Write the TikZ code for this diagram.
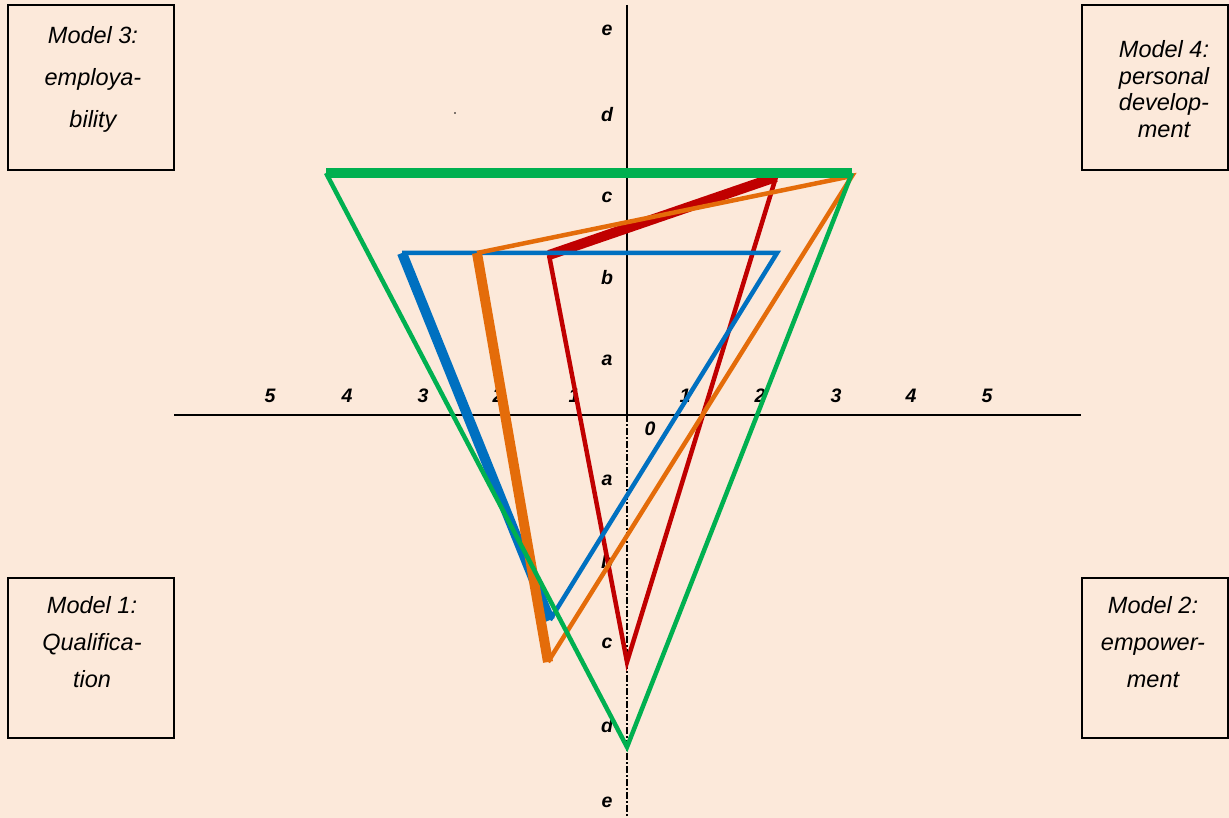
\documentclass[tikz,border=0pt]{standalone}
\usepackage{fontspec}
\setmainfont{Liberation Sans}
\definecolor{bgpeach}{RGB}{252,233,218}
\definecolor{cgreen}{RGB}{0,176,80}
\definecolor{cred}{RGB}{192,0,0}
\definecolor{cblue}{RGB}{0,112,192}
\definecolor{corange}{RGB}{228,108,10}
\tikzset{
  modelbox/.style={draw=black, line width=2pt, minimum width=166pt, minimum height=165pt, inner sep=0pt},
  modeltxt/.style={align=center, font=\fontsize{23.5}{#1}\selectfont\itshape, inner sep=0pt},
  axlab/.style={font=\fontsize{19.5}{19.5}\selectfont\bfseries\itshape, inner sep=0pt},
  thinln/.style={line width=4.5pt, line cap=butt, line join=miter},
  thickln/.style={line width=10pt, line cap=butt, line join=miter},
  axisln/.style={line width=1.8pt, black},
}
\begin{document}
\begin{tikzpicture}[x=1pt, y=-1pt]
\fill[bgpeach] (0,0) rectangle (1229,818);
\useasboundingbox (0,0) rectangle (1229,818);

% boxes
\node[modelbox] (m3box) at (91,88) {};
\node[modelbox, minimum width=146pt] (m4box) at (1155,88) {};
\node[modelbox, minimum height=160pt] (m1box) at (91,658) {};
\node[modelbox, minimum width=146pt, minimum height=160pt] (m2box) at (1155,658) {};
\node[modeltxt=42pt] (m3txt) at (93,79) {Model 3:\\employa-\\bility};
\node[modeltxt=26.5pt] (m4txt) at (1164,89) {Model 4:\\personal\\develop-\\ment};
\node[modeltxt=37pt] (m1txt) at (92,642) {Model 1:\\Qualifica-\\tion};
\node[modeltxt=37pt] (m2txt) at (1153,642) {Model 2:\\empower-\\ment};

% axes
\coordinate (ytop) at (627,5);
\coordinate (orig) at (627,415);
\coordinate (ybot) at (627,818);
\coordinate (xl) at (174,415);
\coordinate (xr) at (1081,415);
\draw[axisln] (xl) -- (xr);
\draw[axisln] (ytop) -- (orig);
\draw[line width=1.6pt, dash pattern=on 7pt off 2pt on 2pt off 2pt] (orig) -- (ybot);

% axis labels
\node[axlab] (xm5) at (270,396) {5};
\node[axlab] (xm4) at (347,396) {4};
\node[axlab] (xm3) at (423,396) {3};
\node[axlab] (xm2) at (498,396) {2};
\node[axlab] (xm1) at (574,396) {1};
\node[axlab] (xp1) at (685,396) {1};
\node[axlab] (xp2) at (760,396) {2};
\node[axlab] (xp3) at (836,396) {3};
\node[axlab] (xp4) at (911,396) {4};
\node[axlab] (xp5) at (987,396) {5};
\node[axlab] (zero) at (650,429) {0};
\node[axlab] (ue) at (607,30) {e};
\node[axlab] (ud) at (607,115) {d};
\node[axlab] (uc) at (607,197) {c};
\node[axlab] (ub) at (607,278) {b};
\node[axlab] (ua) at (607,360) {a};
\node[axlab] (la) at (607,480) {a};
\node[axlab] (lb) at (607,562) {b};
\node[axlab] (lc) at (607,643) {c};
\node[axlab] (ld) at (607,726) {d};
\node[axlab] (le) at (607,802) {e};

\fill[black] (455,113) circle (0.8pt);

% vertices
\coordinate (G1) at (326,173);
\coordinate (G2) at (852,173);
\coordinate (G3) at (627,747);
\coordinate (R1) at (549,255);
\coordinate (R2) at (776,177);
\coordinate (R3) at (627,662);
\coordinate (B1) at (402,253);
\coordinate (B2) at (777,253);
\coordinate (B3) at (550,620);
\coordinate (O1) at (477,253);
\coordinate (O2) at (852,176);
\coordinate (O3) at (548,662);

% red
\draw[thickln, cred] (R1) -- (R2);
\draw[thinln, cred] (R2) -- (R3) -- (R1);
% blue
\draw[thinln, cblue] (B1) -- (B2) -- (B3);
\draw[thickln, cblue] (B1) -- (B3);
% orange
\draw[thinln, corange] (O1) -- (O2) -- (O3);
\draw[thickln, corange] (O1) -- (O3);
% green
\draw[thinln, cgreen] (G2) -- (G3) -- (G1);
\draw[thickln, cgreen] (G1) -- (G2);
\end{tikzpicture}
\end{document}
